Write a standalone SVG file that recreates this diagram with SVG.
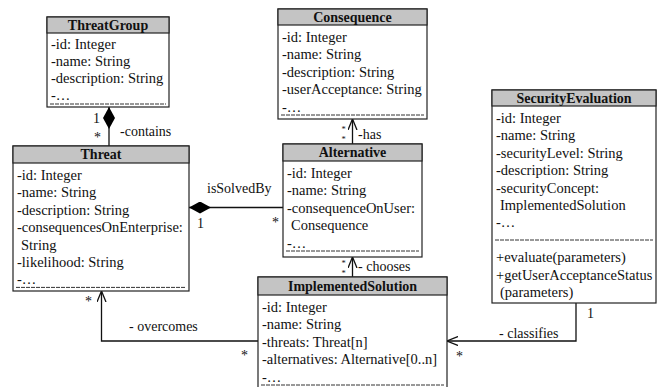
<svg xmlns="http://www.w3.org/2000/svg" width="657" height="387" viewBox="0 0 657 387">
<style>
text{font-family:"Liberation Serif","Times New Roman",serif;font-size:14.5px;fill:#111}
.t{font-weight:bold;text-anchor:middle;font-size:14px}
.box{fill:#fff;stroke:#222;stroke-width:1.2}
.hd{fill:#c4c4c4;stroke:#222;stroke-width:1.2}
.dash{stroke:#333;stroke-width:1;stroke-dasharray:4 1;fill:none}
.ln{stroke:#111;stroke-width:1.3;fill:none}
.lbl{font-size:14px}
.st{font-size:8.5px}
</style>
<defs>
<marker id="dia" viewBox="0 0 22 12" refX="0" refY="6" markerWidth="22" markerHeight="12" markerUnits="userSpaceOnUse" orient="auto">
<path d="M0,6 L11,0 L22,6 L11,12 Z" fill="#000"/>
</marker>
<marker id="arr" viewBox="0 0 11 10" refX="11" refY="5" markerWidth="11" markerHeight="10" markerUnits="userSpaceOnUse" orient="auto">
<path d="M0,0.5 L11,5 L0,9.5" fill="none" stroke="#111" stroke-width="1.3"/>
</marker>
</defs>
<rect width="657" height="387" fill="#fff"/>

<g id="connectors">
<path class="ln" d="M109,107 V146" marker-start="url(#dia)"/>
<path class="ln" d="M189,207.5 H283" marker-start="url(#dia)"/>
<path class="ln" d="M352.5,144 V119" marker-end="url(#arr)"/>
<path class="ln" d="M352.5,277 V257" marker-end="url(#arr)"/>
<path class="ln" d="M258,341 H101.5 V291" marker-end="url(#arr)"/>
<path class="ln" d="M576,303 V341 H447" marker-end="url(#arr)"/>
<text class="lbl" x="93" y="123">1</text>
<text class="lbl" x="94" y="142">*</text>
<text class="lbl" x="120" y="136">-contains</text>
<text class="lbl" x="207" y="193">isSolvedBy</text>
<text class="lbl" x="197" y="228">1</text>
<text class="lbl" x="272" y="227">*</text>
<text class="st" x="341.5" y="131.5">*</text>
<text class="st" x="341.5" y="141.5">*</text>
<text class="lbl" x="358" y="139">-has</text>
<text class="st" x="341.5" y="265.5">*</text>
<text class="st" x="341.5" y="275.5">*</text>
<text class="lbl" x="358" y="270.5">- chooses</text>
<text class="lbl" x="85" y="306">*</text>
<text class="lbl" x="129" y="330.5">- overcomes</text>
<text class="lbl" x="241" y="360">*</text>
<text class="lbl" x="587" y="318">1</text>
<text class="lbl" x="499" y="337.5">- classifies</text>
<text class="lbl" x="456" y="361">*</text>
</g>

<g id="ThreatGroup">
<rect class="box" x="47" y="17" width="122" height="90"/>
<rect class="hd" x="47" y="17" width="122" height="16"/>
<text class="t" x="108" y="29.5">ThreatGroup</text>
<text x="51" y="49">-id: Integer</text>
<text x="51" y="66">-name: String</text>
<text x="51" y="83">-description: String</text>
<text x="51" y="100">-…</text>
<line class="dash" x1="50" y1="104" x2="166" y2="104"/>
</g>

<g id="Threat">
<rect class="box" x="13" y="146" width="176" height="145"/>
<rect class="hd" x="13" y="146" width="176" height="17"/>
<text class="t" x="101" y="159">Threat</text>
<text x="17" y="180">-id: Integer</text>
<text x="17" y="197.4">-name: String</text>
<text x="17" y="214.8">-description: String</text>
<text x="17" y="232.2">-consequencesOnEnterprise:</text>
<text x="21" y="249.6">String</text>
<text x="17" y="267">-likelihood: String</text>
<text x="17" y="284.4">-…</text>
<line class="dash" x1="16" y1="287.4" x2="186" y2="287.4"/>
</g>

<g id="Consequence">
<rect class="box" x="278" y="9" width="149" height="110"/>
<rect class="hd" x="278" y="9" width="149" height="16"/>
<text class="t" x="352.5" y="21.5">Consequence</text>
<text x="282" y="42">-id: Integer</text>
<text x="282" y="59.4">-name: String</text>
<text x="282" y="76.8">-description: String</text>
<text x="282" y="94.2">-userAcceptance: String</text>
<text x="282" y="111.6">-…</text>
<line class="dash" x1="281" y1="115" x2="424" y2="115"/>
</g>

<g id="Alternative">
<rect class="box" x="283" y="144" width="139" height="113"/>
<rect class="hd" x="283" y="144" width="139" height="17"/>
<text class="t" x="352.5" y="157">Alternative</text>
<text x="287" y="178">-id: Integer</text>
<text x="287" y="195.4">-name: String</text>
<text x="287" y="212.8">-consequenceOnUser:</text>
<text x="291" y="230.2">Consequence</text>
<text x="287" y="247.6">-…</text>
<line class="dash" x1="286" y1="251" x2="419" y2="251"/>
</g>

<g id="ImplementedSolution">
<rect class="box" x="258" y="277" width="189" height="120"/>
<rect class="hd" x="258" y="277" width="189" height="18"/>
<text class="t" x="352.5" y="290.5">ImplementedSolution</text>
<text x="262" y="312">-id: Integer</text>
<text x="262" y="329.4">-name: String</text>
<text x="262" y="346.8">-threats: Threat[n]</text>
<text x="262" y="364.2">-alternatives: Alternative[0..n]</text>
<text x="262" y="381.6">-…</text>
<line class="dash" x1="261" y1="385" x2="444" y2="385"/>
</g>

<g id="SecurityEvaluation">
<rect class="box" x="492" y="90" width="164" height="213"/>
<rect class="hd" x="492" y="90" width="164" height="16"/>
<text class="t" x="574" y="102.5">SecurityEvaluation</text>
<text x="496" y="123">-id: Integer</text>
<text x="496" y="140.4">-name: String</text>
<text x="496" y="157.8">-securityLevel: String</text>
<text x="496" y="175.2">-description: String</text>
<text x="496" y="192.6">-securityConcept:</text>
<text x="500" y="210">ImplementedSolution</text>
<text x="496" y="227.4">-…</text>
<line class="dash" x1="495" y1="240" x2="653" y2="240"/>
<text x="496" y="262.2">+evaluate(parameters)</text>
<text x="496" y="279.6">+getUserAcceptanceStatus</text>
<text x="500" y="297">(parameters)</text>
</g>
</svg>
